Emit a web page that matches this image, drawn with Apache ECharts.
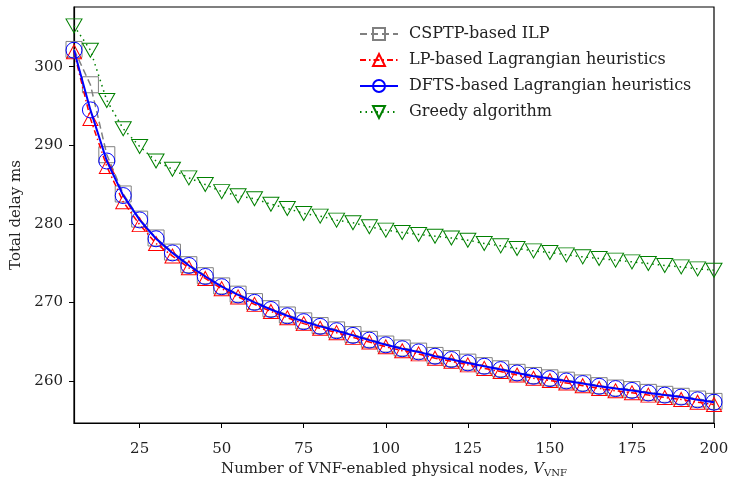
<!DOCTYPE html>
<html>
<head>
<meta charset="utf-8">
<script src="https://cdn.jsdelivr.net/npm/echarts@6/dist/echarts.min.js"></script>
<style>html,body{margin:0;padding:0;background:#fff}#c{width:729px;height:478px}</style>
</head>
<body>
<div id="c"></div>
<script>
const xValues = [5,10,15,20,25,30,35,40,45,50,55,60,65,70,75,80,85,90,95,100,105,110,115,120,125,130,135,140,145,150,155,160,165,170,175,180,185,190,195,200];
const csptpIlp = [302.2,297.7,288.8,283.8,280.6,278.2,276.4,274.8,273.4,272.1,271.05,270.1,269.2,268.4,267.65,267.05,266.5,265.9,265.3,264.7,264.2,263.8,263.25,262.85,262.4,261.95,261.55,261.1,260.7,260.4,260.1,259.75,259.4,259.1,258.9,258.55,258.3,258.05,257.7,257.4];
const lpLagrangian = [301.9,293.4,287.3,282.8,279.9,277.5,275.9,274.4,273.05,271.75,270.7,269.75,268.85,268.05,267.3,266.7,266.15,265.55,264.95,264.35,263.85,263.45,262.9,262.5,262.05,261.6,261.2,260.75,260.35,260.05,259.75,259.4,259.05,258.75,258.5,258.2,257.9,257.65,257.3,257.0];
const dftsLagrangian = [302.1,294.5,288.0,283.6,280.5,278.1,276.3,274.7,273.3,272.0,270.95,270.0,269.1,268.3,267.55,266.95,266.4,265.8,265.2,264.6,264.1,263.7,263.15,262.73,262.3,261.87,261.45,261.02,260.6,260.3,260.0,259.67,259.32,259.03,258.8,258.47,258.2,257.95,257.6,257.3];
const greedy = [305.2,302.1,295.7,292.1,289.85,288.0,286.95,285.85,285.0,284.1,283.57,283.2,282.5,281.96,281.32,280.98,280.47,280.13,279.62,279.2,278.9,278.65,278.43,278.2,277.92,277.5,277.2,276.86,276.56,276.35,276.05,275.8,275.59,275.38,275.16,274.95,274.7,274.52,274.27,274.1];
const xTicks = [25,50,75,100,125,150,175,200];
const yTicks = [260,270,280,290,300];
const seriesNames = ['CSPTP-based ILP','LP-based Lagrangian heuristics','DFTS-based Lagrangian heuristics','Greedy algorithm'];

const FONT = 'DejaVu Serif';
function pairs(ys){ return xValues.map((x,i)=>[x, ys[i]]); }

const chart = echarts.init(document.getElementById('c'), null, {renderer:'canvas'});
chart.setOption({
  animation: false,
  backgroundColor: '#fff',
  grid: {left: 74, right: 15, top: 7, bottom: 55, containLabel: false, outerBoundsMode: 'none',
         show: true, borderColor: '#000', borderWidth: 1.2},
  legend: {
    orient: 'vertical', left: 354, top: 21, itemWidth: 38, itemHeight: 15, itemGap: 10,
    textStyle: {fontFamily: FONT, fontSize: 16, color: '#222', padding: [0,0,0,6]},
    data: seriesNames
  },
  xAxis: {
    type: 'value', min: 5, max: 200,
    name: 'Number of VNF-enabled physical nodes, {i|V}{sub|VNF}',
    nameLocation: 'middle', nameGap: 33,
    nameTextStyle: {fontFamily: FONT, fontSize: 15, color: '#222',
      rich: {i: {fontFamily: FONT, fontStyle: 'italic', fontSize: 15, color: '#222'},
             sub: {fontFamily: FONT, fontSize: 10, color: '#222', padding: [8,0,0,0]}}},
    axisLine: {show: true, onZero: false, lineStyle: {color: '#000', width: 1.2}},
    axisTick: {show: true, inside: false, length: 5, customValues: xTicks, lineStyle: {color: '#000'}},
    axisLabel: {customValues: xTicks, fontFamily: FONT, fontSize: 15, color: '#222', margin: 19},
    splitLine: {show: false}
  },
  yAxis: {
    type: 'value', min: 254.65, max: 307.6,
    name: 'Total delay ms', nameLocation: 'middle', nameGap: 50,
    nameTextStyle: {fontFamily: FONT, fontSize: 15, color: '#222'},
    axisLine: {show: true, onZero: false, lineStyle: {color: '#000', width: 1.2}},
    axisTick: {show: true, inside: false, length: 5, customValues: yTicks, lineStyle: {color: '#000'}},
    axisLabel: {customValues: yTicks, fontFamily: FONT, fontSize: 15, color: '#222', margin: 11},
    splitLine: {show: false}
  },
  series: [
    {name: seriesNames[0], type: 'line', data: pairs(csptpIlp), symbol: 'rect', symbolSize: 16,
     lineStyle: {color: '#808080', width: 1.5, type: [7,4]},
     itemStyle: {color: 'rgba(255,255,255,0)', borderColor: '#808080', borderWidth: 1}, z: 2},
    {name: seriesNames[1], type: 'line', data: pairs(lpLagrangian), symbol: 'triangle', symbolSize: [15,14],
     lineStyle: {color: '#ff0000', width: 1.5, type: [6,3,1.5,3]},
     itemStyle: {color: 'rgba(255,255,255,0)', borderColor: '#ff0000', borderWidth: 1}, z: 3},
    {name: seriesNames[2], type: 'line', data: pairs(dftsLagrangian), symbol: 'circle', symbolSize: 16,
     lineStyle: {color: '#0000ff', width: 2},
     itemStyle: {color: 'rgba(255,255,255,0)', borderColor: '#0000ff', borderWidth: 1}, z: 4},
    {name: seriesNames[3], type: 'line', data: pairs(greedy), symbol: 'triangle', symbolRotate: 180, symbolSize: [16,14],
     lineStyle: {color: '#008000', width: 1.5, type: [1.5,4]},
     itemStyle: {color: 'rgba(255,255,255,0)', borderColor: '#008000', borderWidth: 1}, z: 5}
  ]
});
</script>
</body>
</html>
